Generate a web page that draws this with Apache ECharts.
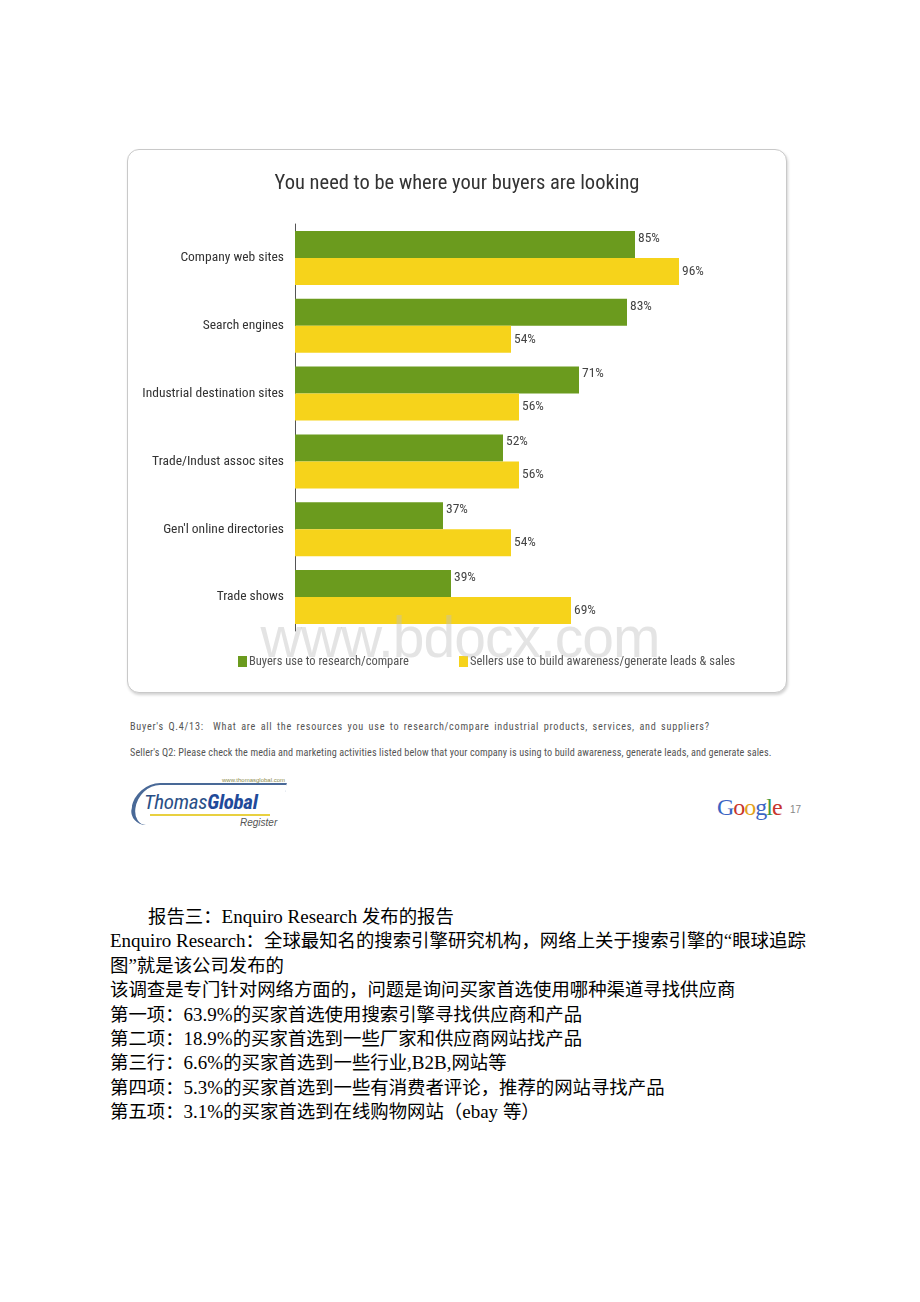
<!DOCTYPE html>
<html>
<head>
<meta charset="utf-8">
<script src="https://cdn.jsdelivr.net/npm/echarts@6/dist/echarts.min.js"></script>
<style>
  html, body { margin:0; padding:0; background:#fff; }
  body { width:920px; height:1302px; position:relative; overflow:hidden; }
  #box { position:absolute; left:127px; top:149px; width:658px; height:542px;
         border:1px solid #c9c9c9; border-radius:12px; box-shadow:1px 2px 3px rgba(0,0,0,0.18); background:#fff; }
  #chart { position:absolute; left:127px; top:149px; width:660px; height:544px; }
  #wm { position:absolute; left:0; width:920px; top:604px; text-align:center; font-family:"Liberation Sans", Arial, sans-serif;
        font-size:57px; color:rgba(190,190,190,0.42); letter-spacing:-1px; pointer-events:none; }
  .note { position:absolute; left:130px; font-family:"Roboto Condensed",sans-serif;
          font-size:10.2px; color:#555; white-space:nowrap; }
  #tg { position:absolute; left:130px; top:775px; width:152px; height:58px; }
  #google { position:absolute; left:717px; top:794px; font-family:"Liberation Serif","Times New Roman",serif; font-size:24px; letter-spacing:-1px; }
  #pg { position:absolute; left:790px; top:804px; font-family:"Liberation Sans",Arial,sans-serif; font-size:10px; color:#888; }
  #text { position:absolute; left:110px; top:903px; font-family:"Liberation Serif","Times New Roman",serif;
          font-size:19px; color:#000; white-space:nowrap; }
  #text div { height:24.4px; line-height:24.4px; }
  #text .cjk { font-family:"Noto Sans CJK SC",sans-serif; font-size:18.4px; }
</style>
</head>
<body>
<div id="box"></div>
<div id="chart"></div>
<div id="wm">www.bdocx.com</div>
<div class="note" style="top:721px;letter-spacing:0.75px;word-spacing:1.5px;">Buyer's Q.4/13:&nbsp; What are all the resources you use to research/compare industrial products, services, and suppliers?</div>
<div class="note" style="top:747px;letter-spacing:0.1px;">Seller's Q2: Please check the media and marketing activities listed below that your company is using to build awareness, generate leads, and generate sales.</div>
<div id="tg">
  <div style="position:absolute;left:2px;top:8px;width:148px;height:40px;border-left:4px solid #2a4f86;border-top:2px solid #2a4f86;border-radius:60px 0 0 40px;transform:skewX(-8deg);opacity:0.85;"></div>
  <div style="position:absolute;left:92px;top:2px;font:6px 'Liberation Sans',Arial;color:#8a8a4a;">www.thomasglobal.com</div>
  <div style="position:absolute;left:14px;top:15px;font:italic 21px 'Roboto Condensed','Liberation Sans',Arial;color:#2a4f86;letter-spacing:-0.3px;">Thomas<b style="color:#1f4a9a;">Global</b></div>
  <div style="position:absolute;left:20px;top:39px;width:120px;height:2px;background:#e8d040;"></div>
  <div style="position:absolute;left:110px;top:42px;font:italic 10px 'Liberation Sans',Arial;color:#555;">Register</div>
</div>
<div id="google"><span style="color:#3b64c4">G</span><span style="color:#c8352c">o</span><span style="color:#e3a21a">o</span><span style="color:#3b64c4">g</span><span style="color:#3f9a3f">l</span><span style="color:#c8352c">e</span></div>
<div id="pg">17</div>
<div id="text">
<div style="padding-left:38px;"><span class="cjk">报告三：</span>Enquiro Research <span class="cjk">发布的报告</span></div>
<div>Enquiro Research<span class="cjk">：全球最知名的搜索引擎研究机构，网络上关于搜索引擎的</span>“<span class="cjk">眼球追踪</span></div>
<div><span class="cjk">图</span>”<span class="cjk">就是该公司发布的</span></div>
<div><span class="cjk">该调查是专门针对网络方面的，问题是询问买家首选使用哪种渠道寻找供应商</span></div>
<div><span class="cjk">第一项：</span>63.9%<span class="cjk">的买家首选使用搜索引擎寻找供应商和产品</span></div>
<div><span class="cjk">第二项：</span>18.9%<span class="cjk">的买家首选到一些厂家和供应商网站找产品</span></div>
<div><span class="cjk">第三行：</span>6.6%<span class="cjk">的买家首选到一些行业</span>,B2B,<span class="cjk">网站等</span></div>
<div><span class="cjk">第四项：</span>5.3%<span class="cjk">的买家首选到一些有消费者评论，推荐的网站寻找产品</span></div>
<div><span class="cjk">第五项：</span>3.1%<span class="cjk">的买家首选到在线购物网站（</span>ebay <span class="cjk">等）</span></div>
</div>
<script>
var categories = ['Company web sites', 'Search engines', 'Industrial destination sites', 'Trade/Indust assoc sites', "Gen'l online directories", 'Trade shows'];
var buyers = [85, 83, 71, 52, 37, 39];
var sellers = [96, 54, 56, 56, 54, 69];
var seriesNames = ['Buyers use to research/compare', 'Sellers use to build awareness/generate leads & sales'];
var chartTitle = 'You need to be where your buyers are looking';

var NARROW = "'Roboto Condensed','Liberation Sans',sans-serif";
var GREEN = '#6b9b1e', YELLOW = '#f6d31b';
var chart = echarts.init(document.getElementById('chart'), null, {renderer: 'canvas'});
chart.setOption({
  animation: false,
  title: { text: chartTitle, left: 'center', top: 19,
           textStyle: { fontFamily: NARROW, fontSize: 20.5, fontWeight: 'normal', color: '#333' } },
  legend: [
    { data: [seriesNames[0]], left: 106, top: 501, itemWidth: 9, itemHeight: 11, icon: 'rect',
      textStyle: { fontFamily: NARROW, fontSize: 12.5, color: '#555', padding: [0,0,0,-3] } },
    { data: [seriesNames[1]], left: 327, top: 501, itemWidth: 9, itemHeight: 11, icon: 'rect',
      textStyle: { fontFamily: NARROW, fontSize: 12.5, color: '#555', padding: [0,0,0,-3] } }
  ],
  grid: { left: 168, top: 75, width: 400, height: 407, containLabel: false, outerBoundsMode: 'none' },
  xAxis: { type: 'value', min: 0, max: 100, show: false },
  yAxis: { type: 'category', data: categories, inverse: true,
           axisLine: { show: true, lineStyle: { color: '#555', width: 1 } },
           axisTick: { show: false },
           axisLabel: { fontFamily: NARROW, fontSize: 13.5, color: '#333', margin: 11 } },
  series: [
    { name: seriesNames[0], type: 'bar', data: buyers, barWidth: 27, barGap: '0%',
      itemStyle: { color: GREEN },
      label: { show: true, position: 'right', distance: 3, formatter: '{c}%',
               fontFamily: NARROW, fontSize: 13.5, color: '#444', offset: [0, -6] } },
    { name: seriesNames[1], type: 'bar', data: sellers, barWidth: 27,
      itemStyle: { color: YELLOW },
      label: { show: true, position: 'right', distance: 3, formatter: '{c}%',
               fontFamily: NARROW, fontSize: 13.5, color: '#444', offset: [0, 0] } }
  ]
});
</script>
</body>
</html>
